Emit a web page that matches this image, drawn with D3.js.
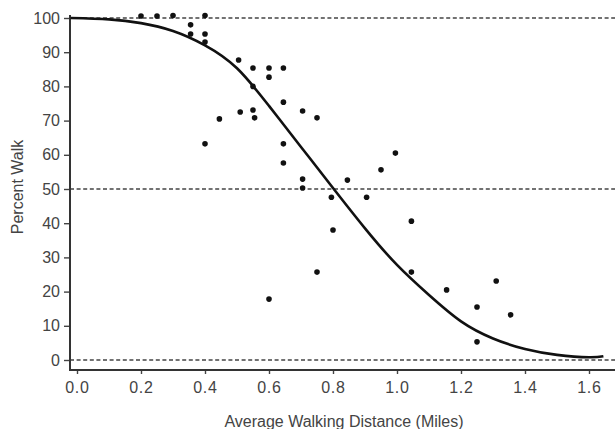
<!DOCTYPE html>
<html>
<head>
<meta charset="utf-8">
<script src="https://cdn.jsdelivr.net/npm/d3@7"></script>
<style>
  html, body { margin: 0; padding: 0; background: #fff; }
  svg { display: block; }
  text { font-family: "Liberation Sans", Arial, sans-serif; fill: #444; }
</style>
</head>
<body>
<svg id="chart" width="615" height="429"></svg>
<script>
// Observed points: average walking distance (miles) and percent walking
const pointMiles = [0.20, 0.25, 0.30, 0.40, 0.355, 0.355, 0.40, 0.40, 0.40, 0.445, 0.505, 0.51,
  0.55, 0.55, 0.55, 0.555, 0.60, 0.60, 0.60, 0.645, 0.645, 0.645, 0.645, 0.705, 0.705, 0.705,
  0.75, 0.75, 0.795, 0.80, 0.845, 0.905, 0.95, 0.995, 1.045, 1.045, 1.155, 1.25, 1.25, 1.31, 1.355];
const pointPercent = [100.6, 100.6, 100.7, 100.7, 98, 95.3, 95.3, 93, 63.2, 70.5, 87.7, 72.5,
  85.4, 80, 73.1, 70.8, 85.4, 82.7, 17.8, 85.4, 75.4, 63.2, 57.6, 72.8, 52.9, 50.3,
  70.8, 25.7, 47.6, 38, 52.6, 47.6, 55.6, 60.5, 40.6, 25.7, 20.5, 15.5, 5.3, 23.1, 13.2];

// Fitted curve
const curveMiles = [-0.02, 0.1, 0.2, 0.3, 0.4, 0.5, 0.6, 0.7, 0.8, 0.9, 1.0, 1.1, 1.2, 1.3, 1.4, 1.5, 1.6, 1.645];
const curvePercent = [100, 99.6, 98.5, 96.2, 92.0, 85.3, 74.3, 62.3, 50.3, 38.5, 27.8, 19.0, 11.3, 6.3, 3.2, 1.5, 0.8, 1.1];

// Reference (dashed) lines
const refLines = [0, 50, 100];

// Ticks
const xTicks = [0, 0.2, 0.4, 0.6, 0.8, 1.0, 1.2, 1.4, 1.6];
const xTickLabels = ["0.0", "0.2", "0.4", "0.6", "0.8", "1.0", "1.2", "1.4", "1.6"];
const yTicks = [0, 10, 20, 30, 40, 50, 60, 70, 80, 90, 100];

const xTitle = "Average Walking Distance (Miles)";
const yTitle = "Percent Walk";

const svg = d3.select("#chart");
const W = 615, H = 429;
const axisX = 70, axisY = 370;

const x = d3.scaleLinear().domain([0, 1.6]).range([77, 589]);
const y = d3.scaleLinear().domain([0, 100]).range([360, 18]);

// Dashed reference lines
svg.append("g").selectAll("line").data(refLines).join("line")
  .attr("x1", axisX).attr("x2", W)
  .attr("y1", d => y(d)).attr("y2", d => y(d))
  .attr("stroke", "#444").attr("stroke-width", 1.4)
  .attr("stroke-dasharray", "4,2.6");

// Axes
const yAxis = d3.axisLeft(y).tickValues(yTicks).tickSize(6).tickPadding(4).tickFormat(d3.format("d"));
const gy = svg.append("g").attr("transform", `translate(${axisX},0)`).call(yAxis);
gy.select(".domain").remove();
gy.selectAll(".tick line").attr("stroke", "#444").attr("stroke-width", 1.4);
gy.selectAll(".tick text").attr("font-size", 16).attr("font-family", "Liberation Sans, Arial, sans-serif").attr("fill", "#444");

const xAxis = d3.axisBottom(x).tickValues(xTicks).tickSize(4).tickPadding(8)
  .tickFormat((d, i) => xTickLabels[i]);
const gx = svg.append("g").attr("transform", `translate(0,${axisY})`).call(xAxis);
gx.select(".domain").remove();
gx.selectAll(".tick line").attr("stroke", "#444").attr("stroke-width", 1.4);
gx.selectAll(".tick text").attr("font-size", 16).attr("letter-spacing", 0.8)
  .attr("font-family", "Liberation Sans, Arial, sans-serif").attr("fill", "#444");

// Axis lines
svg.append("line").attr("x1", axisX).attr("x2", axisX).attr("y1", 15).attr("y2", axisY + 1)
  .attr("stroke", "#333").attr("stroke-width", 2);
svg.append("line").attr("x1", axisX).attr("x2", W).attr("y1", axisY).attr("y2", axisY)
  .attr("stroke", "#333").attr("stroke-width", 2);

// Fitted curve
const curveData = curveMiles.map((m, i) => [m, curvePercent[i]]);
svg.append("path").datum(curveData)
  .attr("fill", "none").attr("stroke", "#111").attr("stroke-width", 2.6)
  .attr("d", d3.line().x(d => x(d[0])).y(d => y(d[1])).curve(d3.curveNatural));

// Points
const pts = pointMiles.map((m, i) => [m, pointPercent[i]]);
svg.append("g").selectAll("circle").data(pts).join("circle")
  .attr("cx", d => x(d[0])).attr("cy", d => y(d[1])).attr("r", 2.8).attr("fill", "#111");

// Titles
svg.append("text").attr("x", 344).attr("y", 427).attr("text-anchor", "middle")
  .attr("font-size", 16).text(xTitle);
svg.append("text").attr("transform", "translate(23,187) rotate(-90)").attr("text-anchor", "middle")
  .attr("font-size", 16).text(yTitle);
</script>
</body>
</html>
